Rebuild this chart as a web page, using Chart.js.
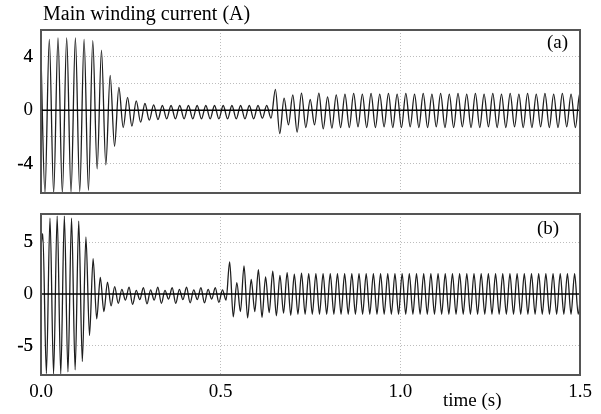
<!DOCTYPE html>
<html>
<head>
<meta charset="utf-8">
<script src="https://cdn.jsdelivr.net/npm/chart.js@4/dist/chart.umd.min.js"></script>
<style>
  body { margin: 0; background: #fff; }
  #wrap { position: relative; width: 601px; height: 414px; overflow: hidden; }
  canvas { position: absolute; left: 0; }
  .lbl { position: absolute; font: 19px/19px 'Liberation Serif', serif; color: #000; white-space: nowrap; }
</style>
</head>
<body>
<div id="wrap">
  <canvas id="chart-a" width="601" height="200" style="top:0"></canvas>
  <canvas id="chart-b" width="601" height="214" style="top:200px"></canvas>
  <div class="lbl" style="left:43px;top:4px;font-size:20px">Main winding current (A)</div>
  <div class="lbl" style="left:547px;top:32px">(a)</div>
  <div class="lbl" style="left:537px;top:218px">(b)</div>
  <div class="lbl" style="left:443px;top:390px">time (s)</div>
</div>
<script>
/* two stacked panels of the main winding current, extrema */

// panel (a): value at t=0, then alternating troughs/peaks every A_HALF seconds from A_T0
const A_START = 4.0;
const A_T0 = 0.011;
const A_HALF = 0.0121;
const A_EXTREMA = [
  -6.2, 5.3, -6.2, 5.4, -6.2, 5.4, -6.15, 5.4, -6.1, 5.3,
  -6.0, 5.2, -4.4, 4.5, -4.1, 2.6, -2.7, 1.7, -1.3, 0.95,
  -1.2, 0.7, -0.9, 0.5, -0.75, 0.4, -0.7, 0.35, -0.65, 0.35,
  -0.65, 0.35, -0.65, 0.35, -0.65, 0.35, -0.65, 0.35, -0.65, 0.35,
  -0.65, 0.35, -0.65, 0.35, -0.65, 0.35, -0.65, 0.35, -0.65, 0.35,
  -0.6, 0.35, -0.6, 1.55, -1.75, 0.9, -1.1, 1.15, -1.65, 1.27,
  -1.3, 0.8, -1.1, 1.27, -1.4, 1.0, -1.35, 1.15, -1.3, 1.2,
  -1.3, 1.25, -1.25, 1.2, -1.3, 1.25, -1.3, 1.2, -1.25, 1.25,
  -1.3, 1.2, -1.3, 1.25, -1.25, 1.2, -1.3, 1.25, -1.3, 1.2,
  -1.25, 1.25, -1.3, 1.2, -1.3, 1.25, -1.25, 1.2, -1.3, 1.25,
  -1.3, 1.2, -1.25, 1.25, -1.3, 1.2, -1.3, 1.25, -1.25, 1.2,
  -1.3, 1.25, -1.3, 1.2, -1.25, 1.25, -1.3, 1.2, -1.3, 1.25,
  -1.25, 1.2, -1.3, 1.25, -1.3
];

// panel (b): 50 Hz, extrema every 10 ms from 5 ms
const B_START = 4.6;
const B_T0 = 0.005;
const B_HALF = 0.01;
const B_EXTREMA = [
  5.8, -7.66, 7.3, -7.7, 7.5, -7.7, 7.5, -7.5, 7.3, -7.3,
  7.0, -6.5, 5.5, -4.0, 3.4, -2.4, 1.6, -1.7, 1.15, -1.15,
  0.7, -0.9, 0.45, -0.6, 0.65, -1.0, 0.35, -0.55, 0.6, -0.95,
  0.4, -0.6, 0.65, -0.9, 0.35, -0.5, 0.6, -0.9, 0.45, -0.55,
  0.65, -0.85, 0.4, -0.55, 0.6, -0.85, 0.45, -0.5, 0.6, -0.8,
  0.4, -0.6, 3.1, -2.2, 1.1, -1.7, 2.7, -2.3, 1.4, -1.7,
  2.35, -2.25, 1.65, -1.8, 2.2, -2.1, 1.8, -1.85, 2.05, -2.05,
  1.9, -1.95, 2.0, -1.95, 1.95, -1.95, 1.95, -1.95, 1.95, -1.95,
  1.95, -1.95, 1.95, -1.95, 1.95, -1.95, 1.95, -1.95, 1.95, -1.95,
  1.95, -1.95, 1.95, -1.95, 1.95, -1.95, 1.95, -1.95, 1.95, -1.95,
  1.95, -1.95, 1.95, -1.95, 1.95, -1.95, 1.95, -1.95, 1.95, -1.95,
  1.95, -1.95, 1.95, -1.95, 1.95, -1.95, 1.95, -1.95, 1.95, -1.95,
  1.95, -1.95, 1.95, -1.95, 1.95, -1.95, 1.95, -1.95, 1.95, -1.95,
  1.95, -1.95, 1.95, -1.95, 1.95, -1.95, 1.95, -1.95, 1.95, -1.95,
  1.95, -1.95, 1.95, -1.95, 1.95, -1.95, 1.95, -1.95, 1.95, -1.95,
  1.95
];

// axes
const X_TICKS = [0, 0.5, 1.0, 1.5];
const X_GRID = [0.5, 1.0];
const A_RANGE = [-6.2, 6];
const A_LABELS = [-4, 0, 4];
const A_GRID = [-4, -2, 2, 4];
const B_RANGE = [-7.8, 7.7];
const B_LABELS = [-5, 0, 5];
const B_GRID = [-5, 5];

const FONT = { family: "'Liberation Serif', serif", size: 19 };
const GRID_COLOR = '#bdbdbd';
const NONE = 'rgba(0,0,0,0)';

function wave(start, t0, half, extrema) {
  return [{ x: 0, y: start }].concat(extrema.map((v, i) => ({ x: t0 + i * half, y: v })));
}

const framePlugin = {
  id: 'frame',
  afterDatasetsDraw(chart) {
    const { ctx, chartArea: a, scales } = chart;
    ctx.save();
    const y0 = scales.y.getPixelForValue(0);
    ctx.strokeStyle = '#000';
    ctx.lineWidth = 1.5;
    ctx.beginPath();
    ctx.moveTo(a.left, y0);
    ctx.lineTo(a.right, y0);
    ctx.stroke();
    ctx.strokeStyle = '#555';
    ctx.lineWidth = 2;
    ctx.strokeRect(a.left, a.top, a.right - a.left, a.bottom - a.top);
    ctx.restore();
  }
};

function makePanel(id, points, range, labels, grid, showX, padding) {
  const yTicks = [range[0], ...grid, ...labels, range[1]];
  return new Chart(document.getElementById(id), {
    type: 'line',
    data: {
      datasets: [{
        data: points,
        borderColor: '#1e1e1e',
        borderWidth: 1.3,
        pointRadius: 0,
        cubicInterpolationMode: 'monotone',
        fill: false
      }]
    },
    options: {
      responsive: false,
      animation: false,
      layout: { padding },
      plugins: { legend: { display: false }, tooltip: { enabled: false } },
      scales: {
        x: {
          type: 'linear', min: 0, max: 1.5,
          afterBuildTicks: s => { s.ticks = X_TICKS.map(v => ({ value: v })); },
          ticks: { display: showX, font: FONT, color: '#000', padding: 6, maxRotation: 0,
                   callback: v => v.toFixed(1) },
          grid: { drawTicks: false, color: c => X_GRID.includes(c.tick && c.tick.value) ? GRID_COLOR : NONE },
          border: { display: false, dash: [1, 2] },
          afterFit: s => { s.height = showX ? 39 : 0; s.paddingTop = 0; s.paddingBottom = 0; }
        },
        y: {
          min: range[0], max: range[1],
          afterBuildTicks: s => { s.ticks = yTicks.map(v => ({ value: v })); },
          ticks: { font: FONT, color: '#000', padding: 8,
                   callback: v => (v === range[0] || v === range[1]) ? null
                                  : labels.includes(v) ? String(v) : '' },
          grid: { drawTicks: false, color: c => grid.includes(c.tick && c.tick.value) ? GRID_COLOR : NONE },
          border: { display: false, dash: [1, 2] },
          // keep the plot box where the layout padding puts it
          afterFit: s => { s.width = 41; s.paddingTop = 0; s.paddingBottom = 0; }
        }
      }
    },
    plugins: [framePlugin]
  });
}

makePanel('chart-a', wave(A_START, A_T0, A_HALF, A_EXTREMA), A_RANGE, A_LABELS, A_GRID, false,
  { top: 30, right: 21, bottom: 7, left: 0 });
makePanel('chart-b', wave(B_START, B_T0, B_HALF, B_EXTREMA), B_RANGE, B_LABELS, B_GRID, true,
  { top: 14, right: 21, bottom: 0, left: 0 });
</script>
</body>
</html>
